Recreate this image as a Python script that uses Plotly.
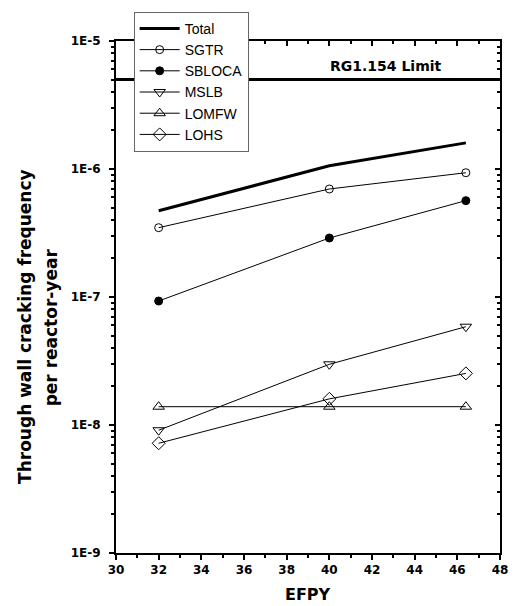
import plotly.graph_objects as go

efpy = [32, 40, 46.4]
total = [4.72e-7, 1.06e-6, 1.60e-6]
sgtr = [3.48e-7, 6.98e-7, 9.35e-7]
sbloca = [9.3e-8, 2.89e-7, 5.66e-7]
mslb = [9.1e-9, 2.98e-8, 5.86e-8]
lomfw = [1.39e-8, 1.39e-8, 1.39e-8]
lohs = [7.2e-9, 1.6e-8, 2.53e-8]
limit_x = [30, 48]
limit_y = [5e-6, 5e-6]
x_ticks = list(range(30, 49, 2))
y_tickvals = [1e-9, 1e-8, 1e-7, 1e-6, 1e-5]
y_ticktext = ["1E-9", "1E-8", "1E-7", "1E-6", "1E-5"]

ARIAL = "Arial, Liberation Sans, sans-serif"
BOLD = "DejaVu Sans, Arial, sans-serif"

fig = go.Figure()
fig.add_trace(go.Scatter(x=efpy, y=total, name="Total", mode="lines",
                         line=dict(color="black", width=3)))
series = [
    ("SGTR", sgtr, "circle-open", 8),
    ("SBLOCA", sbloca, "circle", 8),
    ("MSLB", mslb, "triangle-down-open", 10),
    ("LOMFW", lomfw, "triangle-up-open", 10),
    ("LOHS", lohs, "diamond-open", 10),
]
for name, vals, sym, sz in series:
    fig.add_trace(go.Scatter(
        x=efpy, y=vals, name=name, mode="lines+markers",
        line=dict(color="black", width=1),
        marker=dict(symbol=sym, size=sz, color="black",
                    line=dict(color="black", width=1)),
    ))
fig.add_trace(go.Scatter(x=limit_x, y=limit_y, mode="lines", showlegend=False,
                         line=dict(color="black", width=3),
                         xaxis="x2", yaxis="y2", hoverinfo="skip"))

minor_y = [k * 10.0 ** e for e in range(-9, -5) for k in range(2, 10)]
tickfont = dict(family=BOLD, size=12, color="black", weight="bold")

fig.update_layout(
    width=515, height=606,
    margin=dict(l=116, r=7, t=41, b=53),
    paper_bgcolor="white", plot_bgcolor="white",
    font=dict(family=ARIAL, color="black"),
    xaxis=dict(range=[30, 48], tickvals=x_ticks, ticks="outside", ticklen=5,
               tickwidth=1.5, tickcolor="black", ticklabeloverflow="allow",
               minor=dict(dtick=1, tick0=30, ticks="outside", ticklen=3,
                          tickcolor="black", tickwidth=1.5, showgrid=False),
               showline=True, linewidth=2, linecolor="black",
               showgrid=False, zeroline=False, tickfont=tickfont),
    yaxis=dict(type="log", range=[-9, -5], tickvals=y_tickvals,
               ticktext=y_ticktext, ticks="outside", ticklen=5, tickwidth=1.5,
               tickcolor="black", ticklabelstandoff=6,
               minor=dict(tickvals=minor_y, ticks="outside", ticklen=3,
                          tickcolor="black", tickwidth=1.5, showgrid=False),
               showline=True, linewidth=2, linecolor="black",
               showgrid=False, zeroline=False, tickfont=tickfont),
    xaxis2=dict(range=[30, 48], overlaying="x", side="top", anchor="y2",
                tickvals=x_ticks, ticks="inside", ticklen=5, tickwidth=1.5,
                tickcolor="black", showticklabels=False,
                minor=dict(dtick=1, tick0=30, ticks="inside", ticklen=3,
                           tickcolor="black", tickwidth=1.5, showgrid=False),
                showline=True, linewidth=2, linecolor="black",
                showgrid=False, zeroline=False),
    yaxis2=dict(type="log", range=[-9, -5], overlaying="y", side="right",
                anchor="x2", tickvals=y_tickvals, ticks="inside", ticklen=5,
                tickwidth=1.5, tickcolor="black", showticklabels=False,
                minor=dict(tickvals=minor_y, ticks="inside", ticklen=3,
                           tickcolor="black", tickwidth=1.5, showgrid=False),
                showline=True, linewidth=2, linecolor="black",
                showgrid=False, zeroline=False),
    legend=dict(x=0.046, y=1.057, xanchor="left", yanchor="top",
                bgcolor="white", bordercolor="#666666", borderwidth=1,
                font=dict(family=ARIAL, size=14, color="black"),
                tracegroupgap=0, itemwidth=40),
    showlegend=True,
    annotations=[
        dict(text="RG1.154 Limit", x=42.65, y=-5.193, xref="x", yref="y",
             showarrow=False, xanchor="center", yanchor="middle",
             font=dict(family=BOLD, size=14, weight="bold")),
        dict(text="Through wall cracking frequency",
             x=(23 - 116) / 392, y=(553 - 326) / 512, xref="paper", yref="paper",
             textangle=-90, showarrow=False, xanchor="center", yanchor="middle",
             font=dict(family=BOLD, size=17, weight="bold")),
        dict(text="per reactor-year",
             x=(50 - 116) / 392, y=(553 - 327) / 512, xref="paper", yref="paper",
             textangle=-90, showarrow=False, xanchor="center", yanchor="middle",
             font=dict(family=BOLD, size=17, weight="bold")),
        dict(text="EFPY", x=0.5, y=(553 - 594) / 512, xref="paper", yref="paper",
             showarrow=False, xanchor="center", yanchor="middle",
             font=dict(family=BOLD, size=16, weight="bold")),
    ],
)

fig.write_html("out.html")
